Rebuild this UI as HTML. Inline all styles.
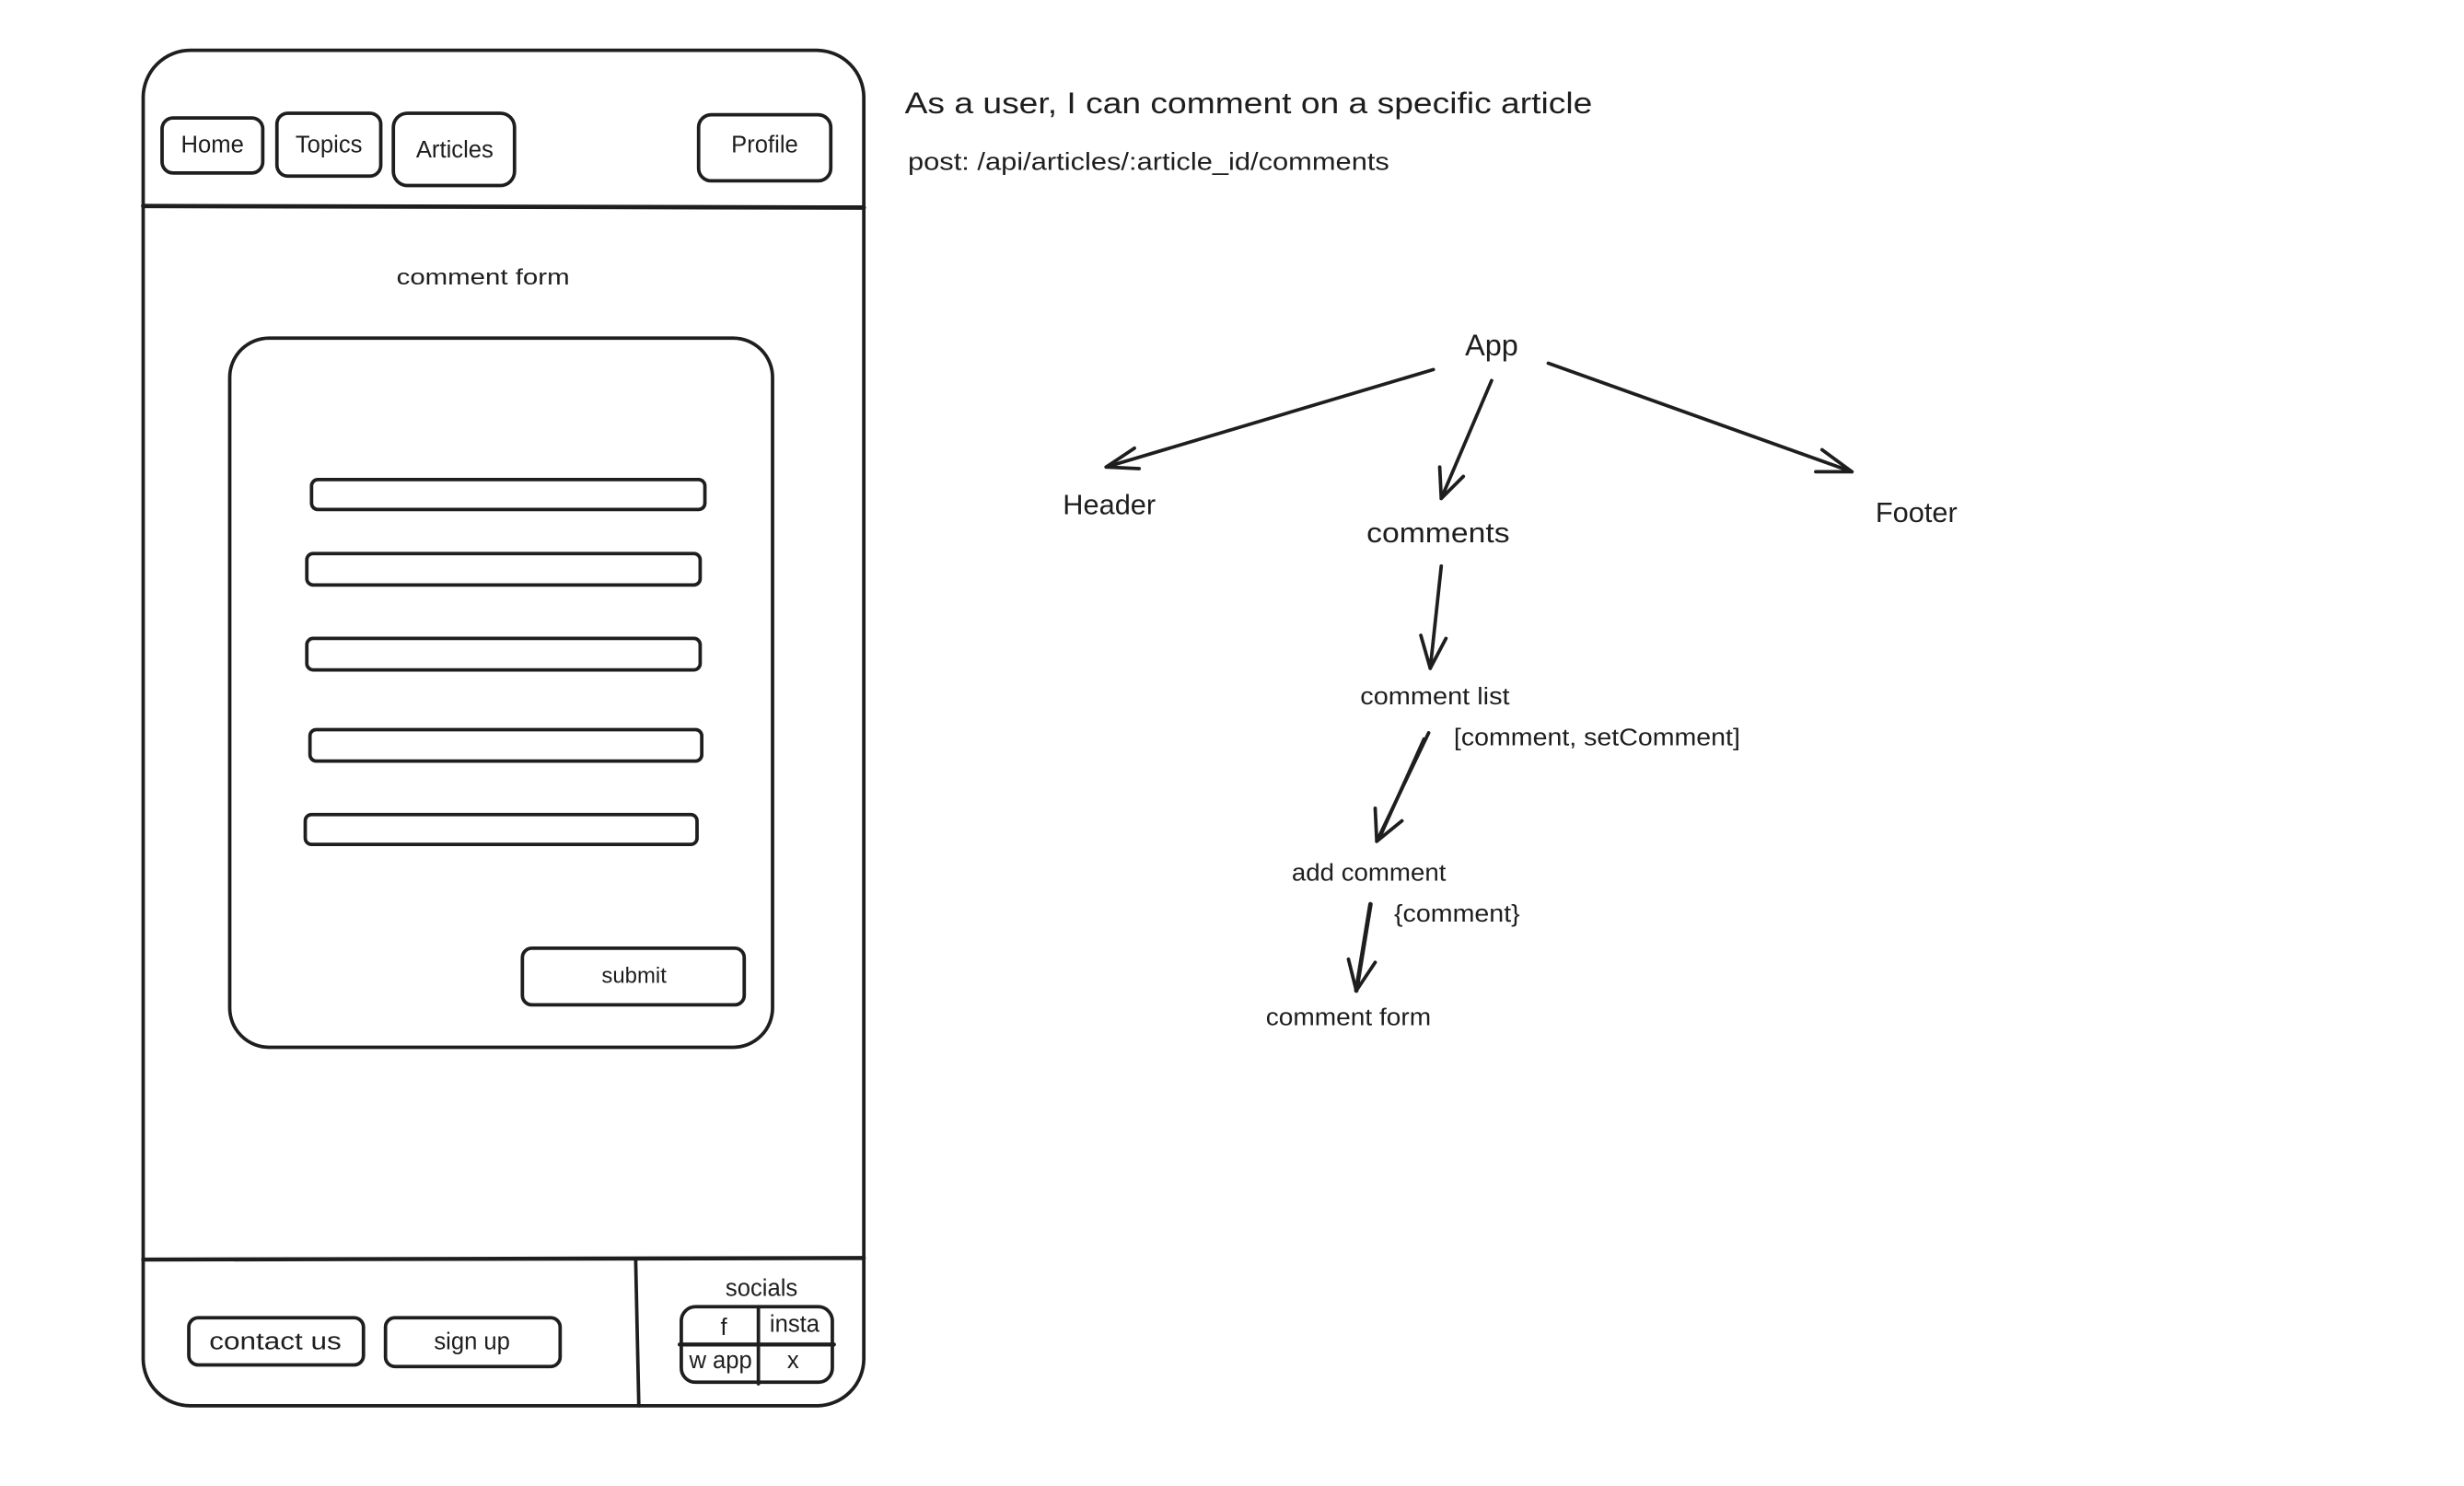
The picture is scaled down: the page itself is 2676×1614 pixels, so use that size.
<!DOCTYPE html>
<html><head><meta charset="utf-8"><style>
html,body{margin:0;padding:0;background:#fff;}
svg{display:block;}
text{font-family:"Liberation Sans",sans-serif;fill:#1e1e1e;}
</style></head><body>
<svg width="2676" height="1614" viewBox="0 0 1566 945" preserveAspectRatio="none" xmlns="http://www.w3.org/2000/svg">
<g fill="none" stroke="#1e1e1e" stroke-width="2.2" stroke-linecap="round" stroke-linejoin="round">
<rect x="91" y="32" width="458" height="862" rx="30"/>
<line x1="91" y1="131" x2="549" y2="132" stroke-width="2.8"/>
<rect x="103" y="75" width="64" height="35" rx="7"/>
<rect x="176" y="72" width="66" height="40" rx="7"/>
<rect x="250" y="72" width="77" height="46" rx="9"/>
<rect x="444" y="73" width="84" height="42" rx="8"/>
<rect x="146" y="215" width="345" height="451" rx="25"/>
<rect x="198" y="305" width="250" height="19" rx="4"/>
<rect x="195" y="352" width="250" height="20" rx="4"/>
<rect x="195" y="406" width="250" height="20" rx="4"/>
<rect x="197" y="464" width="249" height="20" rx="4"/>
<rect x="194" y="518" width="249" height="19" rx="4"/>
<rect x="332" y="603" width="141" height="36" rx="6"/>
<line x1="91" y1="801" x2="549" y2="800" stroke-width="2.6"/>
<line x1="404" y1="801" x2="406" y2="894"/>
<rect x="120" y="838" width="111" height="30" rx="6"/>
<rect x="245" y="838" width="111" height="31" rx="6"/>
<rect x="433" y="831" width="96" height="48" rx="9"/>
<line x1="482" y1="831" x2="482" y2="880"/>
<line x1="432" y1="855" x2="530" y2="855" stroke-width="2.6"/>
<line x1="911" y1="235" x2="703" y2="297"/><polyline points="721,285 703,297 724,298"/>
<line x1="948" y1="242" x2="916" y2="317"/><polyline points="915,297 916,317 930,303"/>
<line x1="984" y1="231" x2="1177" y2="300"/><polyline points="1158,286 1177,300 1154,300"/>
<line x1="916" y1="360" x2="909" y2="425"/><polyline points="903,404 909,425 919,406"/>
<line x1="908" y1="466" x2="875" y2="535"/><line x1="905" y1="470" x2="878" y2="530"/><polyline points="874,514 875,535 891,522"/>
<line x1="871" y1="575" x2="862" y2="630" stroke-width="2.8"/><polyline points="857,610 862,630 874,612"/>
</g>
<g font-size="15" text-anchor="middle" lengthAdjust="spacingAndGlyphs">
<text x="135" y="97">Home</text>
<text x="209" y="97">Topics</text>
<text x="289" y="100">Articles</text>
<text x="486" y="97">Profile</text>
<text x="307" y="181" font-size="14" textLength="110" lengthAdjust="spacingAndGlyphs">comment  form</text>
<text x="403" y="625" font-size="14">submit</text>
<text x="175" y="858" textLength="84" lengthAdjust="spacingAndGlyphs">contact us</text>
<text x="300" y="858">sign up</text>
<text x="484" y="824">socials</text>
<text x="460" y="849">f</text>
<text x="505" y="847">insta</text>
<text x="458" y="870">w app</text>
<text x="504" y="870">x</text>
<text x="948" y="226" font-size="19">App</text>
<text x="705" y="327" font-size="18">Header</text>
<text x="914" y="345" font-size="18" textLength="91" lengthAdjust="spacingAndGlyphs">comments</text>
<text x="1218" y="332" font-size="18">Footer</text>
<text x="912" y="448" textLength="95" lengthAdjust="spacingAndGlyphs">comment list</text>
<text x="870" y="560" textLength="98" lengthAdjust="spacingAndGlyphs">add comment</text>
<text x="857" y="652" textLength="105" lengthAdjust="spacingAndGlyphs">comment form</text>
</g>
<g font-size="15">
<text x="924" y="474" textLength="182" lengthAdjust="spacingAndGlyphs">[comment, setComment]</text>
<text x="886" y="586" textLength="80" lengthAdjust="spacingAndGlyphs">{comment}</text>
<text x="575" y="72" font-size="19" textLength="437" lengthAdjust="spacingAndGlyphs">As a user, I can comment on a specific article</text>
<text x="577" y="108" font-size="15.5" textLength="306" lengthAdjust="spacingAndGlyphs">post: /api/articles/:article_id/comments</text>
</g>
</svg>
</body></html>
